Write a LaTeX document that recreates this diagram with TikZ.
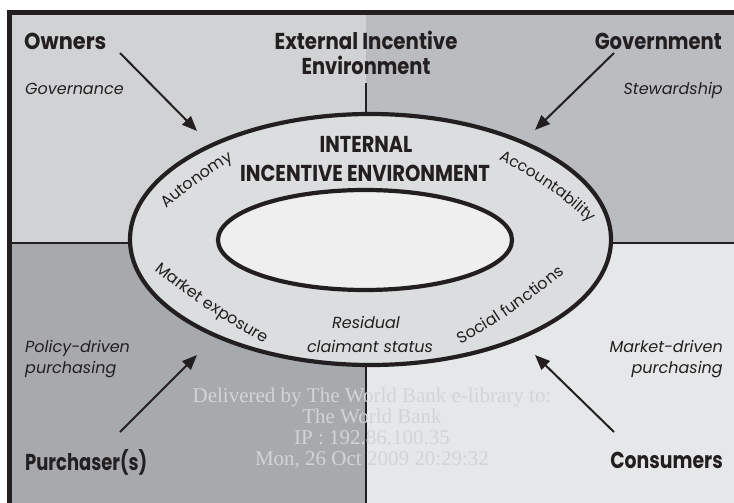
\documentclass[tikz,border=0pt]{standalone}
\usepackage{fontspec}
\setmainfont{Poppins}
\newfontfamily\wmfont{Liberation Serif}
\usetikzlibrary{arrows.meta,decorations.text}
\definecolor{qTL}{HTML}{D1D2D4}
\definecolor{qTR}{HTML}{BBBCBF}
\definecolor{qBL}{HTML}{A8A9AD}
\definecolor{qBR}{HTML}{E6E7E8}
\definecolor{ringc}{HTML}{DCDDDF}
\definecolor{corec}{HTML}{EFEFEF}
\definecolor{ink}{HTML}{231F20}
\definecolor{wm}{HTML}{D3D4D6}
\newcommand{\hsq}[2]{\scalebox{#1}[1]{#2}}
\tikzset{
  headlbl/.style={text=ink, inner sep=0pt, font=\bfseries\fontsize{23}{23}\selectfont},
  itlbl/.style={text=ink, inner sep=0pt, font=\itshape\fontsize{16}{16}\selectfont},
  bigarrow/.style={draw=ink, line width=2pt, -{Triangle[length=15pt,width=12pt]}},
  ringline/.style={draw=ink, line width=4.2pt},
  wmlbl/.style={text=wm, inner sep=0pt, font=\wmfont\fontsize{21}{21}\selectfont},
  ringtext/.style 2 args={decorate, decoration={text along path, text align=center,
     text={|\fontsize{#1}{#1}\selectfont\color{ink}|#2}}},
}
\begin{document}
\begin{tikzpicture}[x=1pt,y=-1pt]
\useasboundingbox (0,0) rectangle (734,503);
\begin{scope}
\clip (0,0) rectangle (734,503);
\fill[white] (0,0) rectangle (734,503);
\fill[qTL] (9.5,12.5) rectangle (366,243);
\fill[qTR] (366,12.5) rectangle (740,243);
\fill[qBL] (9.5,243) rectangle (366,510);
\fill[qBR] (366,243) rectangle (740,510);
\draw[ink, line width=1.3pt] (9.5,243) -- (740,243);
\draw[ink, line width=1.3pt] (366,83) -- (366,510);
\draw[ink, line width=5pt] (9.5,540) -- (9.5,12.5) -- (760,12.5);
\end{scope}
% ring
\path[ringline, fill=ringc] (370.5,239.5) ellipse [x radius=240.5, y radius=125.5];
\path[ringline, fill=corec] (365,240) ellipse [x radius=147, y radius=50];
% corner labels
\node[headlbl, anchor=base west] (owners) at (24,50) {\hsq{0.91}{Owners}};
\node[headlbl, anchor=base east] (gov) at (722,50) {\hsq{0.85}{Government}};
\node[headlbl, anchor=base west] (purch) at (25,470) {\hsq{0.78}{Purchaser(s)}};
\node[headlbl, anchor=base east] (cons) at (723,468) {\hsq{0.82}{Consumers}};
\node[headlbl, anchor=base] (ext1) at (366,50) {\hsq{0.86}{External Incentive}};
\node[headlbl, anchor=base] (ext2) at (366,75) {\hsq{0.845}{Environment}};
\node[headlbl, anchor=base] (int1) at (366,152) {\hsq{0.84}{INTERNAL}};
\node[headlbl, anchor=base] (int2) at (365,181) {\hsq{0.85}{INCENTIVE ENVIRONMENT}};
\node[itlbl, anchor=base west] (govn) at (25,95) {Governance};
\node[itlbl, anchor=base east] (stew) at (723,95) {Stewardship};
\node[itlbl, anchor=base west] (pol1) at (25,352) {Policy-driven};
\node[itlbl, anchor=base west] (pol2) at (25,373) {purchasing};
\node[itlbl, anchor=base east] (mkt1) at (723,352) {Market-driven};
\node[itlbl, anchor=base east] (mkt2) at (723,373) {purchasing};
\node[itlbl, anchor=base] (res1) at (366,328) {Residual};
\node[itlbl, anchor=base] (res2) at (370,352) {claimant status};
% ring labels along curves
\path[ringtext={16}{Autonomy}] (154,220) .. controls (179,195) and (217,168) .. (248,152);
\path[ringtext={15.5}{Accountability}] (481.9,151.5) .. controls (527.2,172.6) and (570.8,200) .. (602.9,236.3);
\path[ringtext={16}{Market exposure}] (138.1,255.6) .. controls (181.2,294.4) and (232.5,327.2) .. (283.7,354.4);
\path[ringtext={16}{Social functions}] (441.9,353.5) .. controls (491.7,330.2) and (537.2,296.5) .. (580.3,260.1);
% arrows
\coordinate (oa) at (120,53);  \coordinate (ob) at (197,131);
\coordinate (ga) at (614,53);  \coordinate (gb) at (535,130);
\coordinate (pa) at (120,432); \coordinate (pb) at (197,355);
\coordinate (ca) at (614,432); \coordinate (cb) at (535,355);
\draw[bigarrow] (oa) -- (ob);
\draw[bigarrow] (ga) -- (gb);
\draw[bigarrow] (pa) -- (pb);
\draw[bigarrow] (ca) -- (cb);
% watermark
\node[wmlbl, anchor=base] (wm1) at (372,402) {Delivered by The World Bank e-library to:};
\node[wmlbl, anchor=base] (wm2) at (372,423) {The World Bank};
\node[wmlbl, anchor=base] (wm3) at (372,444) {IP : 192.86.100.35};
\node[wmlbl, anchor=base] (wm4) at (372,465) {Mon, 26 Oct 2009 20:29:32};
\end{tikzpicture}
\end{document}
